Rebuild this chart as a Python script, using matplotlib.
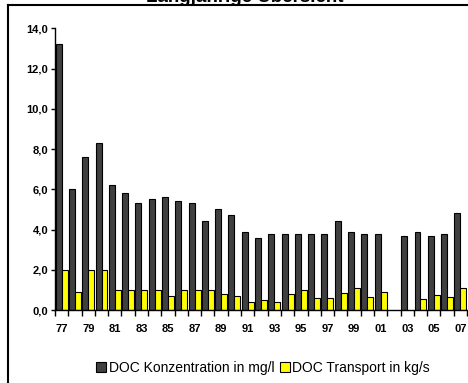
import numpy as np
import matplotlib
matplotlib.use('Agg')
import matplotlib.pyplot as plt
from matplotlib.lines import Line2D
from matplotlib.patches import Patch

plt.rcParams['font.family'] = ['Liberation Sans', 'DejaVu Sans']

# Jahre 1977 - 2007
jahre = ['77', '78', '79', '80', '81', '82', '83', '84', '85', '86', '87', '88', '89', '90',
         '91', '92', '93', '94', '95', '96', '97', '98', '99', '00', '01', '02', '03', '04',
         '05', '06', '07']

konzentration = [13.2, 6.0, 7.6, 8.3, 6.2, 5.8, 5.3, 5.5, 5.6, 5.4, 5.3, 4.4, 5.0, 4.7,
                 3.9, 3.6, 3.8, 3.8, 3.8, 3.8, 3.8, 4.4, 3.9, 3.8, 3.8, np.nan, 3.7, 3.9,
                 3.7, 3.8, 4.8]

transport = [2.0, 0.9, 2.0, 2.0, 1.0, 1.0, 1.0, 1.0, 0.7, 1.0, 1.0, 1.0, 0.8, 0.7,
             0.38, 0.48, 0.38, 0.8, 1.0, 0.6, 0.6, 0.86, 1.07, 0.66, 0.88, np.nan, np.nan, 0.53,
             0.73, 0.63, 1.07]

farbe_konz = '#404040'
farbe_trans = '#ffff00'

fig = plt.figure(figsize=(4.68, 3.83), dpi=100)
ax = fig.add_axes([55 / 468, 1 - 310 / 383, 412 / 468, (310 - 28.3) / 383])

x = np.arange(len(jahre))
b = 0.45

ax.bar(x - b / 2, konzentration, width=b, color=farbe_konz, edgecolor='black', linewidth=0.8)
ax.bar(x + b / 2, transport, width=b, color=farbe_trans, edgecolor='black', linewidth=0.8)

ax.set_xlim(-0.5, len(jahre) - 0.5)
ax.set_ylim(0, 14)
ax.set_yticks(np.arange(0, 15, 2))
ax.set_yticklabels([f'{v:.1f}'.replace('.', ',') for v in np.arange(0, 15, 2)])

ax.set_xticks(x[::2])
ax.set_xticklabels(jahre[::2])
ax.set_xticks(np.arange(-0.5, len(jahre), 1), minor=True)
ax.tick_params(axis='x', which='major', length=0, pad=10)
ax.tick_params(axis='x', which='minor', length=4, width=1)
ax.tick_params(axis='y', length=3, width=1, pad=2)

for lbl in ax.get_xticklabels() + ax.get_yticklabels():
    lbl.set_fontsize(8)
    lbl.set_fontweight('bold')

ax.spines['top'].set_visible(False)
ax.spines['right'].set_visible(False)
ax.spines['left'].set_linewidth(1)
ax.spines['bottom'].set_linewidth(1)

# Rahmen links und oben
fig.add_artist(Line2D([8.3 / 468, 8.3 / 468], [0, 1 - 5 / 383], color='black', linewidth=1.5,
                      transform=fig.transFigure))
fig.add_artist(Line2D([8.3 / 468, 1], [1 - 5 / 383, 1 - 5 / 383], color='black', linewidth=1.5,
                      transform=fig.transFigure))

fig.text(245 / 468, 1 - 1.5 / 383, 'Langjährige Übersicht', ha='center', va='baseline',
         fontsize=13.5, fontweight='bold')

handles = [Patch(facecolor=farbe_konz, edgecolor='black', linewidth=0.8),
           Patch(facecolor=farbe_trans, edgecolor='black', linewidth=0.8)]
fig.legend(handles, ['DOC Konzentration in mg/l', 'DOC Transport in kg/s'],
           loc='center', bbox_to_anchor=(263 / 468, 1 - 368 / 383), ncol=2, frameon=False,
           fontsize=10, handlelength=0.7, handleheight=0.7, handletextpad=0.2,
           columnspacing=0.4, borderaxespad=0)

fig.savefig('out.png', dpi=100)
